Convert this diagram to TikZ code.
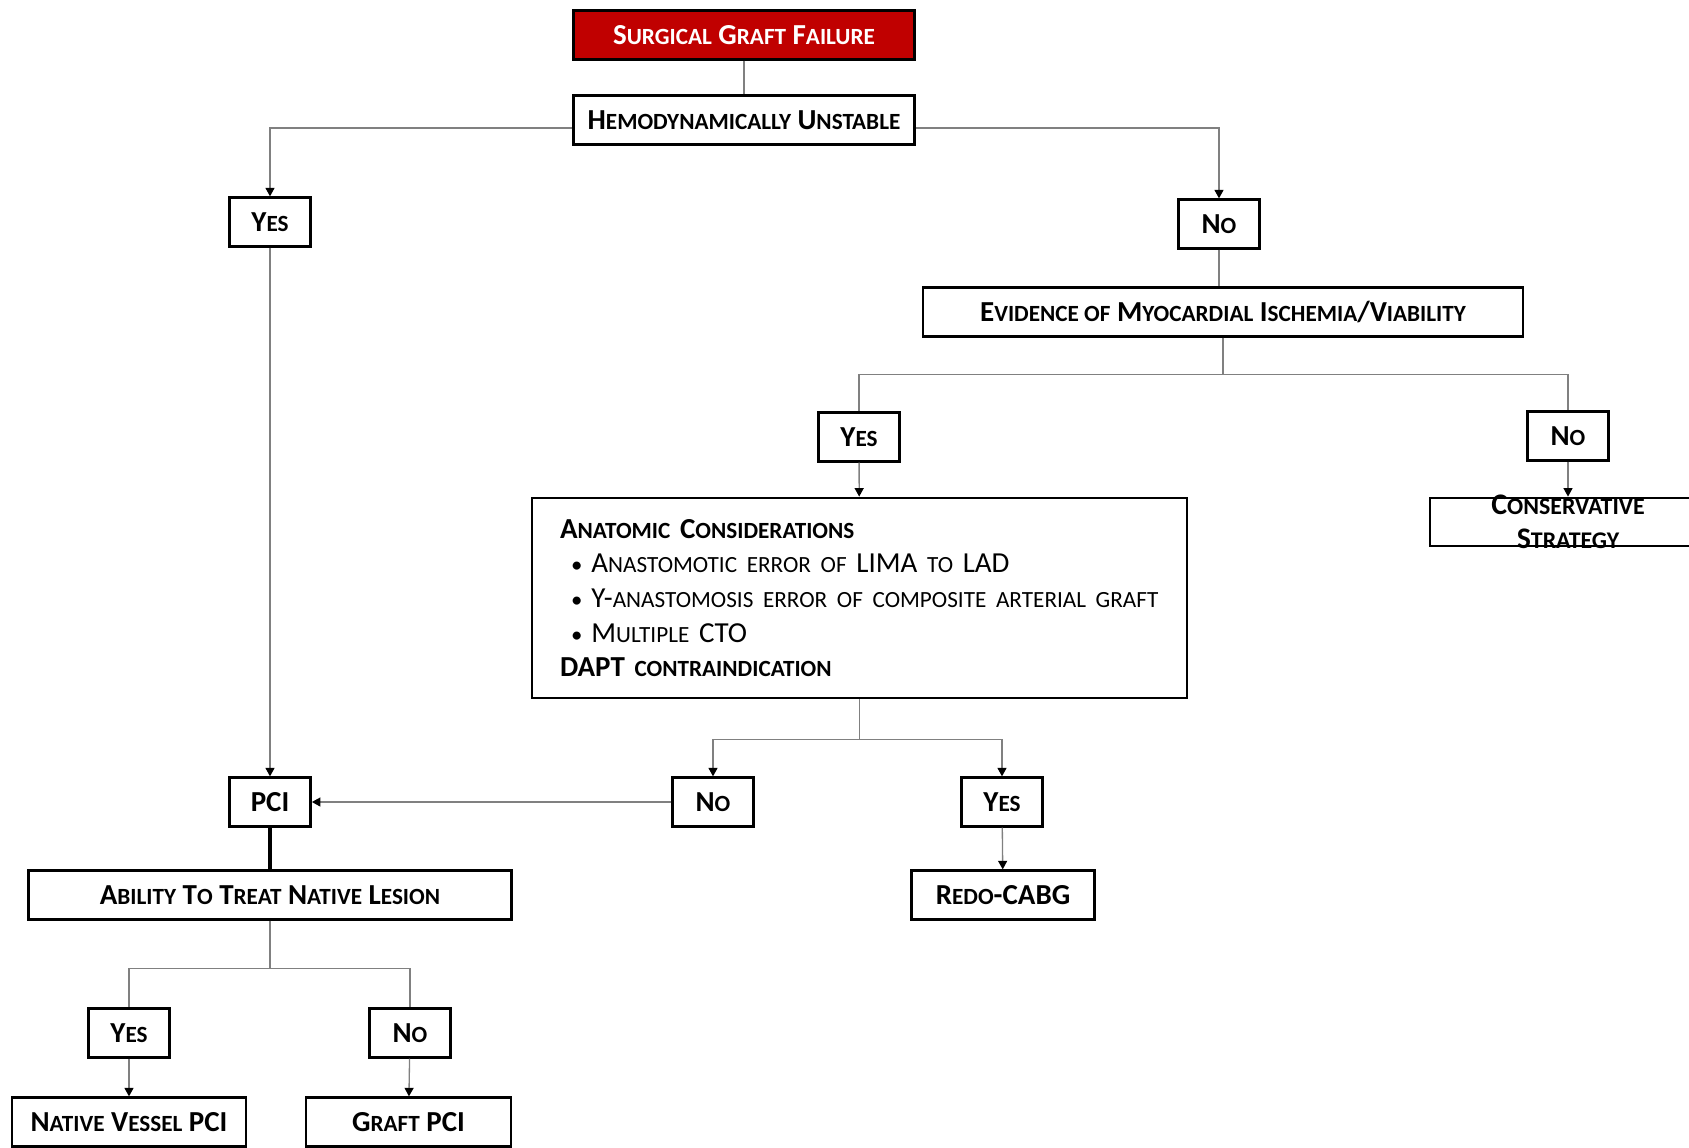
\documentclass[tikz,border=0pt]{standalone}
\usepackage{fontspec}
\setmainfont{Carlito}
\newfontfamily\smallcapfont[Scale=0.8]{Carlito}
\usetikzlibrary{positioning,arrows.meta}
\newcommand{\lc}[1]{{\smallcapfont #1}}
\newcommand{\dotitem}{\hspace*{0.22cm}{\fontsize{13}{13}\selectfont\textbullet}\hspace{0.18cm}}
\definecolor{graftred}{HTML}{C00000}

\begin{document}
\begin{tikzpicture}[
  x=0.02cm, y=-0.02cm,
  box/.style={draw, line width=1.6pt, minimum height=0.97cm, inner sep=2pt, align=center,
    font=\fontsize{16.5}{19}\selectfont\bfseries},
  answer/.style={box, minimum width=1.62cm},
  link/.style={draw=black!50, line width=0.75pt},
  arrowlink/.style={link, -{Triangle[length=0.17cm, width=0.18cm, color=black]}}
]
  \useasboundingbox (0,0) rectangle (1689,1147);

  % top of the tree
  \node[box, fill=graftred, text=white, minimum width=6.82cm] (surgical) at (744,35) {S\lc{URGICAL} G\lc{RAFT} F\lc{AILURE}};
  \node[box, minimum width=6.82cm] (hemo) at (744,120) {H\lc{EMODYNAMICALLY} U\lc{NSTABLE}};
  \node[answer] (yesA) at (270,222) {Y\lc{ES}};
  \node[answer] (noA) at (1219,224) {N\lc{O}};

  % stable branch
  \node[box, minimum width=12cm] (evidence) at (1223,312) {E\lc{VIDENCE OF} M\lc{YOCARDIAL} I\lc{SCHEMIA}/V\lc{IABILITY}};
  \node[answer] (yesB) at (859,437) {Y\lc{ES}};
  \node[answer] (noB) at (1568,436) {N\lc{O}};
  \node[box, minimum width=5.52cm, minimum height=0.96cm] (conserv) at (1568,522) {};
  \node[font=\fontsize{17}{19.5}\selectfont\bfseries, align=center] (conservtxt) at (conserv) {C\lc{ONSERVATIVE}\\S\lc{TRATEGY}};
  \node[box, minimum width=13.1cm, minimum height=4cm, inner xsep=0.56cm, text width=11.98cm, align=left,
    font=\fontsize{16.5}{19.7}\selectfont] (anatomic) at (859.5,598)
    {\textbf{A\lc{NATOMIC} C\lc{ONSIDERATIONS}}\\
     \mbox{\dotitem A\lc{NASTOMOTIC ERROR OF} LIMA \lc{TO} LAD}\\
     \mbox{\dotitem Y-\lc{ANASTOMOSIS ERROR OF COMPOSITE ARTERIAL GRAFT}}\\
     \mbox{\dotitem M\lc{ULTIPLE} CTO}\\
     \textbf{DAPT \lc{CONTRAINDICATION}}};
  \node[answer] (noC) at (713,802) {N\lc{O}};
  \node[answer] (yesC) at (1002,802) {Y\lc{ES}};
  \node[box, minimum width=3.66cm] (redo) at (1003,895) {R\lc{EDO}-CABG};

  % PCI branch
  \node[answer] (pci) at (270,802) {PCI};
  \node[box, minimum width=9.66cm] (ability) at (270,895) {A\lc{BILITY} T\lc{O} T\lc{REAT} N\lc{ATIVE} L\lc{ESION}};
  \node[answer] (yesD) at (129,1033) {Y\lc{ES}};
  \node[answer] (noD) at (410,1033) {N\lc{O}};
  \node[box, minimum width=4.68cm] (native) at (129,1122) {N\lc{ATIVE} V\lc{ESSEL} PCI};
  \node[box, minimum width=4.1cm] (graftpci) at (408.5,1122) {G\lc{RAFT} PCI};

  % connectors
  \draw[link] (surgical) -- (hemo);
  \draw[arrowlink] ([yshift=-0.16cm]hemo.west) -| (yesA);
  \draw[arrowlink] ([yshift=-0.16cm]hemo.east) -| (noA);
  \draw[link] (noA) -- (noA |- evidence.north);
  \draw[link] (evidence.south) -- ++(0,37) coordinate (jB) -| (yesB);
  \draw[link] (jB) -| (noB);
  \draw[arrowlink] (yesB) -- (anatomic);
  \draw[arrowlink] (noB) -- (conserv);
  \draw[link] (anatomic.south) -- ++(0,40) coordinate (jC);
  \draw[arrowlink] (jC) -| (noC);
  \draw[arrowlink] (jC) -| (yesC);
  \draw[arrowlink] (yesC) -- (redo);
  \draw[arrowlink] (yesA) -- (pci);
  \draw[arrowlink] (noC) -- (pci);
  \draw[line width=2pt] (pci) -- (ability);
  \draw[link] (ability.south) -- ++(0,48) coordinate (jD) -| (yesD);
  \draw[link] (jD) -| (noD);
  \draw[arrowlink] (yesD) -- (native);
  \draw[arrowlink] (noD) -- (graftpci);
\end{tikzpicture}
\end{document}
